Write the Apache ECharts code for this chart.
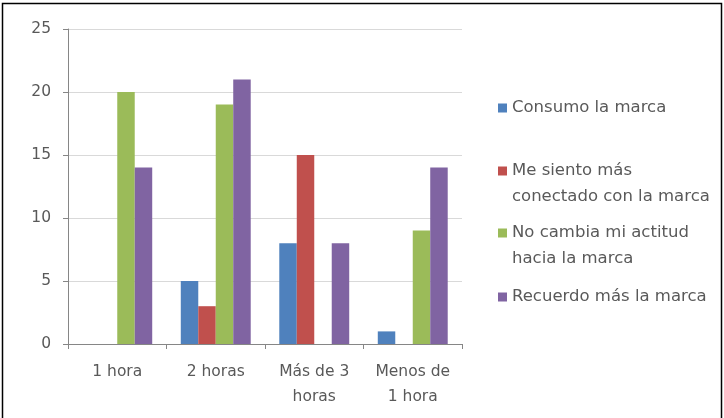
<!DOCTYPE html>
<html><head><meta charset="utf-8">
<style>html,body{margin:0;padding:0;background:#fff}#c{width:724px;height:418px}</style>
<script src="https://cdn.jsdelivr.net/npm/echarts@6/dist/echarts.min.js"></script>
</head><body><div id="c"></div>
<script>
const categories = ['1 hora', '2 horas', 'Más de 3\nhoras', 'Menos de\n1 hora'];
const seriesNames = ['Consumo la marca', 'Me siento más conectado con la marca', 'No cambia mi actitud hacia la marca', 'Recuerdo más la marca'];
const legendLabels = ['Consumo la marca', '\nMe siento más\nconectado con la marca', '\nNo cambia mi actitud\nhacia la marca', 'Recuerdo más la marca'];
const consumo = [null, 5, 8, 1];
const conectado = [null, 3, 15, null];
const noCambia = [20, 19, null, 9];
const recuerdo = [14, 21, 8, 14];
const colors = ['#4F81BD', '#C0504D', '#9BBB59', '#8064A2'];
const values = [consumo, conectado, noCambia, recuerdo];
const legendTops = [90, 127, 189, 279];

const font = '"DejaVu Sans", sans-serif';
const chart = echarts.init(document.getElementById('c'));
chart.setOption({
  animation: false,
  color: colors,
  grid: {left: 68, right: 262, top: 29, bottom: 74, containLabel: false},
  legend: seriesNames.map((n, i) => ({
    data: [n], left: 493, top: legendTops[i], orient: 'vertical',
    itemWidth: 9, itemHeight: 9, icon: 'rect', selectedMode: false,
    formatter: () => legendLabels[i],
    textStyle: {fontFamily: font, fontSize: 16.5, color: '#595959', lineHeight: 26}
  })),
  xAxis: {
    type: 'category', data: categories,
    axisLine: {lineStyle: {color: '#868686'}},
    axisTick: {show: true, length: 5, lineStyle: {color: '#868686'}},
    axisLabel: {fontFamily: font, fontSize: 15.5, color: '#595959', margin: 15, lineHeight: 25, interval: 0}
  },
  yAxis: {
    type: 'value', min: 0, max: 25, interval: 5,
    axisLine: {show: true, lineStyle: {color: '#868686'}},
    axisTick: {show: true, length: 5, lineStyle: {color: '#868686'}},
    splitLine: {lineStyle: {color: '#D9D9D9'}},
    axisLabel: {fontFamily: font, fontSize: 15.5, color: '#595959', margin: 17}
  },
  series: seriesNames.map((n, i) => ({
    name: n, type: 'bar', data: values[i],
    barGap: '0%', barCategoryGap: '29%',
    itemStyle: {color: colors[i]}
  })),
  graphic: [{type: 'rect', shape: {x: 2.5, y: 3.5, width: 719, height: 420}, style: {fill: 'none', stroke: '#000', lineWidth: 1.5}, silent: true}]
});
</script></body></html>
